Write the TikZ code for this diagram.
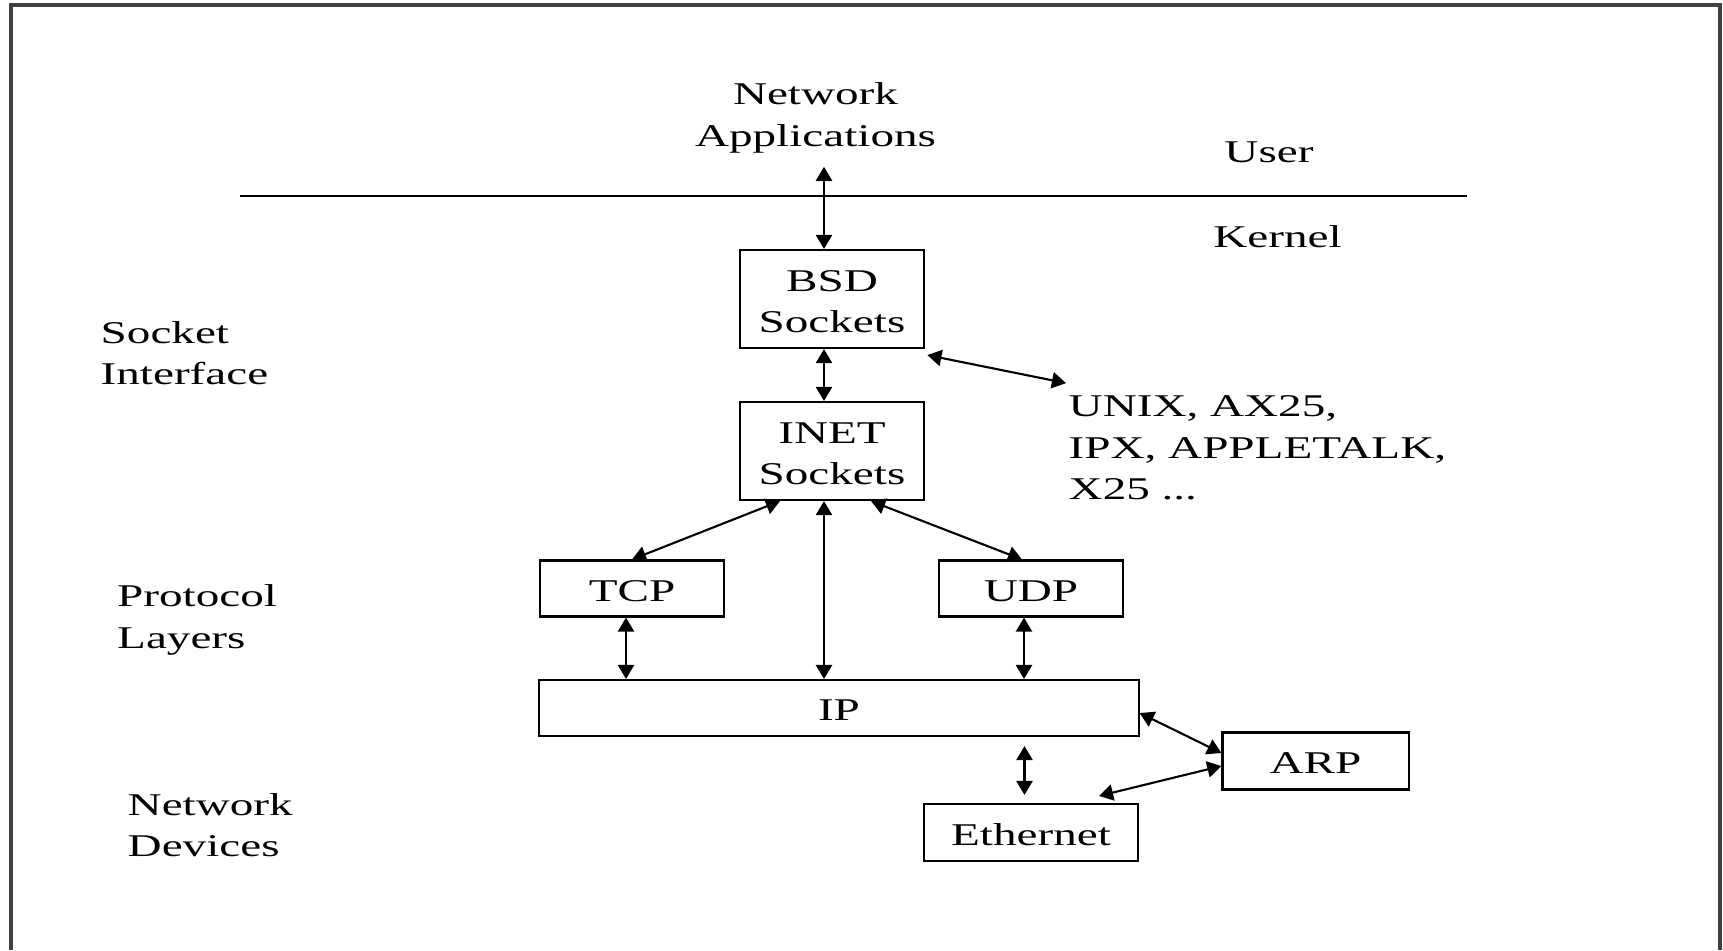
\documentclass[tikz,border=0pt]{standalone}
\usepackage{fontspec}
\setmainfont{Liberation Serif}[FakeStretch=1.49]
\usepackage{tikz}
\usetikzlibrary{arrows.meta}

\newcommand{\toppad}{\rule{0pt}{7.5pt}}

\begin{document}
\begin{tikzpicture}[
  x=0.01cm, y=-0.01cm,
  txt/.style={font=\fontsize{9}{11.8}\selectfont, inner sep=0pt},
  lbl/.style={txt, align=left, anchor=west},
  boxbase/.style={draw, line width=0.6pt, txt, align=center, minimum height=0.56cm, minimum width=1.846cm},
  box/.style={boxbase, text height=7.2pt},
  tallbox/.style={boxbase, minimum height=0.98cm},
  arr/.style={{Triangle[length=4pt,width=4.6pt]}-{Triangle[length=4pt,width=4.6pt]}, line width=0.6pt},
  frame/.style={line width=1pt, black!75}
]
\useasboundingbox (0,0) rectangle (1723,950);
\draw[frame] (11,950) -- (11,5) -- (1720,5) -- (1720,950);

% user / kernel split
\node[txt, align=center] (netapp) at (815.5,118) {Network\\Applications};
\node[txt, anchor=base] (user) at (1269,162.6) {User};
\node[txt, anchor=base] (kernel) at (1277.5,247) {Kernel};
\draw[line width=0.6pt] (239.6,196) -- (1467,196);

% layer names
\node[lbl] (sockif) at (100,353) {Socket\\Interface};
\node[lbl] (proto) at (116.5,620) {Protocol\\Layers};
\node[lbl] (netdev) at (127,825) {Network\\Devices};
\node[lbl] (others) at (1068,448) {UNIX, AX25,\\IPX, APPLETALK,\\X25 ...};

% stack
\node[tallbox] (bsd) at (832,299) {\toppad BSD\\Sockets};
\node[tallbox] (inet) at (832,451) {\toppad INET\\Sockets};
\node[box] (tcp) at (632,588.5) {TCP};
\node[box] (udp) at (1031,588.5) {UDP};
\node[box, minimum width=5.99cm] (ip) at (839,708) {IP};
\node[box, minimum width=1.86cm, minimum height=0.57cm] (arp) at (1315.5,761) {ARP};
\node[box, minimum width=2.14cm, minimum height=0.57cm] (eth) at (1031,832.5) {Ethernet};

\draw[arr] ([xshift=-0.08cm]bsd.north) -- ([xshift=-0.08cm,yshift=-0.13cm]bsd.north |- netapp.south);
\draw[arr] ([xshift=-0.08cm]bsd.south) -- ([xshift=-0.08cm]inet.north);
\draw[arr] ([xshift=0.02cm,yshift=-0.06cm]bsd.south east) -- ([xshift=-0.02cm,yshift=0.12cm]others.north west);
\draw[arr] ([xshift=-0.52cm]inet.south) -- (tcp.north);
\draw[arr] ([xshift=-0.08cm]inet.south) -- ([xshift=-0.08cm]inet.south |- ip.north);
\draw[arr] ([xshift=0.39cm]inet.south) -- ([xshift=-0.09cm]udp.north);
\draw[arr] ([xshift=-0.06cm]tcp.south) -- ([xshift=-0.06cm]tcp.south |- ip.north);
\draw[arr] ([xshift=-0.07cm]udp.south) -- ([xshift=-0.07cm]udp.south |- ip.north);
\draw[arr] ([yshift=-0.05cm]ip.east) -- ([yshift=0.08cm]arp.west);
\draw[arr] ([yshift=-0.05cm]arp.west) -- ([xshift=0.68cm,yshift=0.07cm]eth.north);
\draw[arr] ([xshift=-0.065cm,yshift=0.08cm]eth.north) -- ([xshift=-0.065cm,yshift=-0.09cm]eth.north |- ip.south);
\end{tikzpicture}
\end{document}
